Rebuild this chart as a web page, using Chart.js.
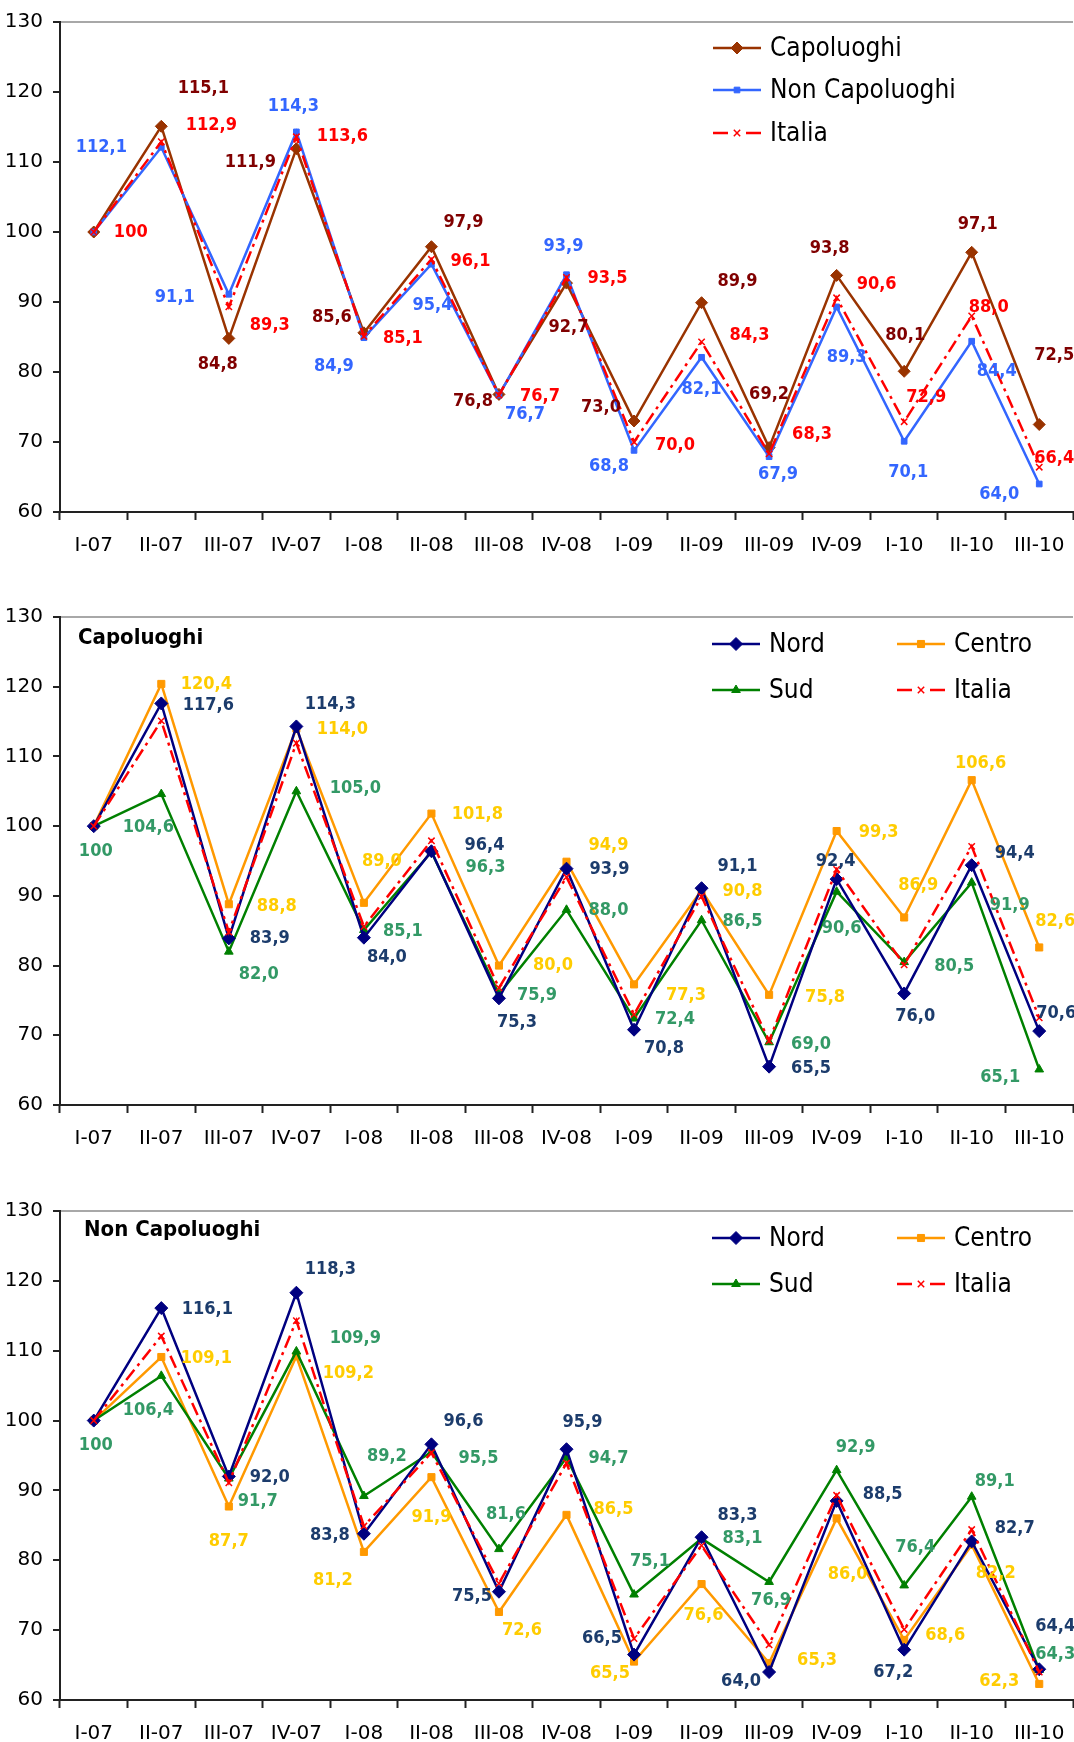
<!DOCTYPE html>
<html>
<head>
<meta charset="utf-8">
<script src="https://cdn.jsdelivr.net/npm/chart.js@4.4.0/dist/chart.umd.min.js"></script>
<style>
html, body { margin: 0; padding: 0; background: #fff; }
body { width: 1074px; height: 1742px; overflow: hidden; position: relative; }
.panel { position: absolute; left: 0; width: 1074px; height: 594px; }
.panel canvas { display: block; }
</style>
</head>
<body>
<div class="panel" style="top:0px"><canvas id="graficoTotale" width="1074" height="594"></canvas></div>
<div class="panel" style="top:595px"><canvas id="graficoCapoluoghi" width="1074" height="594"></canvas></div>
<div class="panel" style="top:1189px"><canvas id="graficoNonCapoluoghi" width="1074" height="594"></canvas></div>
<script>
// Indici trimestrali (I-07 = 100)
const FONT = '"DejaVu Sans Condensed", "Liberation Sans", sans-serif';
const FONT_ASSI = '"DejaVu Sans", sans-serif';
Chart.defaults.font.family = FONT;
Chart.defaults.color = '#000';

const trimestri = ['I-07', 'II-07', 'III-07', 'IV-07', 'I-08', 'II-08', 'III-08', 'IV-08',
                   'I-09', 'II-09', 'III-09', 'IV-09', 'I-10', 'II-10', 'III-10'];

// grafico 1
const capoluoghi    = [100, 115.1, 84.8, 111.9, 85.6, 97.9, 76.8, 92.7, 73.0, 89.9, 69.2, 93.8, 80.1, 97.1, 72.5];
const nonCapoluoghi = [100, 112.1, 91.1, 114.3, 84.9, 95.4, 76.7, 93.9, 68.8, 82.1, 67.9, 89.3, 70.1, 84.4, 64.0];
const italia        = [100, 112.9, 89.3, 113.6, 85.1, 96.1, 76.7, 93.5, 70.0, 84.3, 68.3, 90.6, 72.9, 88.0, 66.4];

// grafico 2 - capoluoghi (Italia = capoluoghi)
const nordCap   = [100, 117.6, 83.9, 114.3, 84.0, 96.4, 75.3, 93.9, 70.8, 91.1, 65.5, 92.4, 76.0, 94.4, 70.6];
const centroCap = [100, 120.4, 88.8, 114.0, 89.0, 101.8, 80.0, 94.9, 77.3, 90.8, 75.8, 99.3, 86.9, 106.6, 82.6];
const sudCap    = [100, 104.6, 82.0, 105.0, 85.1, 96.3, 75.9, 88.0, 72.4, 86.5, 69.0, 90.6, 80.5, 91.9, 65.1];

// grafico 3 - non capoluoghi (Italia = non capoluoghi)
const nordNon   = [100, 116.1, 92.0, 118.3, 83.8, 96.6, 75.5, 95.9, 66.5, 83.3, 64.0, 88.5, 67.2, 82.7, 64.4];
const centroNon = [100, 109.1, 87.7, 109.2, 81.2, 91.9, 72.6, 86.5, 65.5, 76.6, 65.3, 86.0, 68.6, 82.2, 62.3];
const sudNon    = [100, 106.4, 91.7, 109.9, 89.2, 95.5, 81.6, 94.7, 75.1, 83.1, 76.9, 92.9, 76.4, 89.1, 64.3];

// spostamento delle etichette rispetto al punto [dx, dy], null = nessuna etichetta
const posCap1 = [null, [42,-38], [-11,26], [-46,14], [-32,-15], [32,-24], [-26,7], [2,44], [-33,-14], [36,-21], [0,-53], [-7,-27], [1,-36], [6,-28], [15,-69]];
const posNon1 = [null, [-60,0], [-54,3], [-3,-26], [-30,29], [1,41], [26,19], [-3,-28], [-25,16], [0,32], [9,18], [10,50], [4,31], [25,30], [-40,10]];
const posIta1 = [[37,0], [50,-16], [41,18], [46,0], [39,2], [39,2], [41,1], [41,1], [41,3], [48,-7], [43,-20], [40,-13], [22,-24], [17,-9], [15,-9]];

const posNord2   = [null, [47,2], [41,0], [34,-22], [23,20], [53,-6], [18,24], [43,1], [30,19], [36,-22], [42,2], [-1,-18], [11,23], [43,-12], [17,-18]];
const posCentro2 = [null, [45,0], [48,2], [46,1], [18,-42], [46,1], [54,0], [42,-16], [52,11], [41,1], [56,2], [42,1], [14,-32], [9,-17], [16,-26]];
const posSud2    = [[2,25], [-13,33], [30,23], [59,-3], [39,1], [54,15], [38,1], [42,1], [41,1], [41,1], [42,2], [5,37], [50,4], [38,23], [-39,8]];

const posNord3   = [null, [46,1], [41,1], [34,-23], [-34,2], [32,-23], [-27,5], [16,-27], [-32,-16], [36,-22], [-28,9], [46,-7], [-11,23], [43,-13], [16,-43]];
const posCentro3 = [null, [45,1], [0,35], [52,17], [-31,28], [0,40], [23,18], [47,-6], [-24,12], [2,31], [48,-3], [11,56], [41,-5], [24,28], [-40,-3]];
const posSud3    = [[2,25], [-13,34], [29,23], [59,-13], [23,-40], [47,6], [7,-35], [42,1], [16,-33], [41,0], [2,18], [19,-23], [11,-38], [23,-15], [16,-16]];

function testoEtichetta(v, i) {
    if (i == 0) return String(v);
    return v.toFixed(1).replace('.', ',');
}

function serie(label, data, colore, marker, raggio, spessore, coloreEtichetta, pos, ordine) {
    return {
        label: label,
        data: data,
        borderColor: colore,
        backgroundColor: colore,
        borderWidth: spessore,
        pointStyle: marker,
        pointRadius: raggio,
        pointBackgroundColor: colore,
        pointBorderColor: colore,
        pointBorderWidth: 1,
        tension: 0,
        order: ordine,
        labelColor: coloreEtichetta,
        labelPos: pos
    };
}

function serieItalia(data, pos) {
    const s = serie('Italia', data, '#FF0000', 'crossRot', 4.5, 2.5, '#FF0000', pos, 0);
    s.borderDash = [13, 5, 3, 5];
    s.pointBorderWidth = 1.5;
    return s;
}

// etichette dei valori
const etichette = {
    id: 'etichette',
    afterDatasetsDraw(chart) {
        const ctx = chart.ctx;
        ctx.save();
        ctx.font = 'bold 18px ' + FONT;
        ctx.textAlign = 'center';
        ctx.textBaseline = 'middle';
        chart.data.datasets.forEach((ds, d) => {
            if (!ds.labelPos) return;
            const meta = chart.getDatasetMeta(d);
            ds.data.forEach((v, i) => {
                const off = ds.labelPos[i];
                if (!off) return;
                const pt = meta.data[i];
                ctx.fillStyle = ds.labelColor;
                ctx.fillText(testoEtichetta(v, i), pt.x + off[0], pt.y + off[1]);
            });
        });
        ctx.restore();
    }
};

function disegnaMarker(ctx, ds, x, y) {
    ctx.fillStyle = ds.pointBackgroundColor;
    ctx.strokeStyle = ds.pointBorderColor;
    ctx.lineWidth = ds.pointBorderWidth;
    ctx.setLineDash([]);
    Chart.helpers.drawPoint(ctx, {
        pointStyle: ds.pointStyle,
        radius: ds.pointRadius,
        borderWidth: ds.pointBorderWidth,
        rotation: 0
    }, x, y);
}

// legenda e titolo del riquadro
const riquadro = {
    id: 'riquadro',
    afterDraw(chart, args, opts) {
        const ctx = chart.ctx;
        ctx.save();
        if (opts.titolo) {
            ctx.font = 'bold 22px ' + FONT;
            ctx.fillStyle = '#000';
            ctx.textAlign = 'left';
            ctx.textBaseline = 'middle';
            ctx.fillText(opts.titolo, opts.titoloX, opts.titoloY);
        }
        (opts.voci || []).forEach(v => {
            const ds = chart.data.datasets[v.ds];
            ctx.strokeStyle = ds.borderColor;
            ctx.lineWidth = ds.borderWidth;
            ctx.beginPath();
            if (ds.borderDash) {
                ctx.moveTo(v.x, v.y);
                ctx.lineTo(v.x + 15, v.y);
                ctx.moveTo(v.x + 33, v.y);
                ctx.lineTo(v.x + 48, v.y);
            } else {
                ctx.moveTo(v.x, v.y);
                ctx.lineTo(v.x + 48, v.y);
            }
            ctx.stroke();
            disegnaMarker(ctx, ds, v.x + 24, v.y);
            ctx.font = opts.fontLegenda + 'px ' + FONT;
            ctx.fillStyle = '#000';
            ctx.textAlign = 'left';
            ctx.textBaseline = 'middle';
            ctx.fillText(ds.label, v.x + 57, v.y + 1);
        });
        ctx.restore();
    }
};

function creaGrafico(id, datasets, decor, alto, altezzaX) {
    return new Chart(document.getElementById(id).getContext('2d'), {
        type: 'line',
        data: { labels: trimestri, datasets: datasets },
        plugins: [etichette, riquadro],
        options: {
            responsive: false,
            animation: false,
            devicePixelRatio: 1,
            layout: { autoPadding: false, padding: { top: alto, right: 1, bottom: 0, left: 0 } },
            scales: {
                x: {
                    offset: true,
                    grid: { drawOnChartArea: false, offset: true, tickLength: 8, tickColor: '#222', tickWidth: 2 },
                    border: { color: '#222', width: 2 },
                    ticks: { font: { size: 20, family: FONT_ASSI, lineHeight: 2.1 }, color: '#000', padding: 5, maxRotation: 0, autoSkip: false },
                    afterFit(scale) { scale.height = altezzaX; }
                },
                y: {
                    min: 60,
                    max: 130,
                    ticks: { stepSize: 10, font: { size: 20, family: FONT_ASSI }, color: '#000', padding: 10 },
                    grid: {
                        color: c => (c.tick && c.tick.value == 130) ? '#a8a8a8' : 'rgba(0,0,0,0)',
                        lineWidth: 2,
                        tickLength: 7,
                        tickColor: '#222',
                        tickWidth: 2
                    },
                    border: { color: '#222', width: 2 },
                    afterFit(scale) { scale.width = 60; }
                }
            },
            plugins: {
                legend: { display: false },
                tooltip: { enabled: false },
                riquadro: decor
            }
        }
    });
}

creaGrafico('graficoTotale', [
    serie('Capoluoghi', capoluoghi, '#993300', 'rectRot', 6, 2.5, '#800000', posCap1, 2),
    serie('Non Capoluoghi', nonCapoluoghi, '#3366FF', 'rect', 4, 2.5, '#3366FF', posNon1, 1),
    serieItalia(italia, posIta1)
], {
    fontLegenda: 26,
    voci: [
        { ds: 0, x: 713, y: 48 },
        { ds: 1, x: 713, y: 90 },
        { ds: 2, x: 713, y: 133 }
    ]
}, 19, 82);

creaGrafico('graficoCapoluoghi', [
    serie('Nord', nordCap, '#000080', 'rectRot', 6.5, 2.5, '#1C3C6C', posNord2, 1),
    serie('Centro', centroCap, '#FF9900', 'rect', 5, 2.5, '#FFCC00', posCentro2, 3),
    serie('Sud', sudCap, '#008000', 'triangle', 5, 2.5, '#339966', posSud2, 2),
    serieItalia(capoluoghi, null)
], {
    titolo: 'Capoluoghi', titoloX: 78, titoloY: 43,
    fontLegenda: 26,
    voci: [
        { ds: 0, x: 712, y: 49 },
        { ds: 1, x: 897, y: 49 },
        { ds: 2, x: 712, y: 95 },
        { ds: 3, x: 897, y: 95 }
    ]
}, 20, 84);

creaGrafico('graficoNonCapoluoghi', [
    serie('Nord', nordNon, '#000080', 'rectRot', 6.5, 2.5, '#1C3C6C', posNord3, 1),
    serie('Centro', centroNon, '#FF9900', 'rect', 5, 2.5, '#FFCC00', posCentro3, 3),
    serie('Sud', sudNon, '#008000', 'triangle', 5, 2.5, '#339966', posSud3, 2),
    serieItalia(nonCapoluoghi, null)
], {
    titolo: 'Non Capoluoghi', titoloX: 84, titoloY: 41,
    fontLegenda: 26,
    voci: [
        { ds: 0, x: 712, y: 49 },
        { ds: 1, x: 897, y: 49 },
        { ds: 2, x: 712, y: 95 },
        { ds: 3, x: 897, y: 95 }
    ]
}, 20, 83);
</script>
</body>
</html>
